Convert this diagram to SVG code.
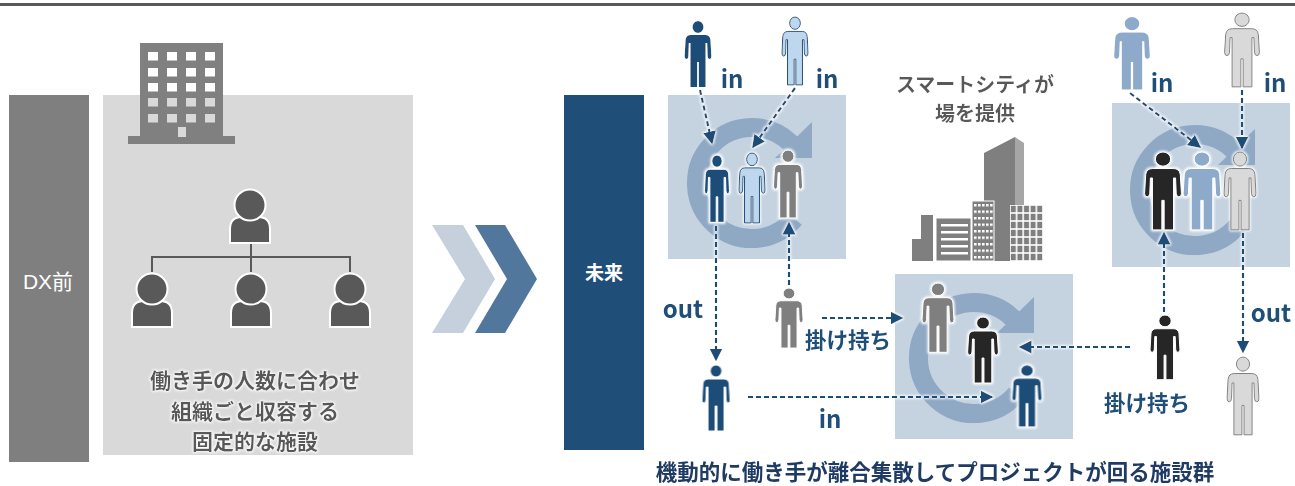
<svg xmlns="http://www.w3.org/2000/svg" xmlns:xlink="http://www.w3.org/1999/xlink" width="1295" height="486" viewBox="0 0 1295 486">
  <style>
    .jp { font-family: "Noto Sans CJK JP", "Liberation Sans", sans-serif; font-weight: bold; text-anchor: middle; }
    .navy { fill: #1f4e79; }
    .grayt { fill: #595959; }
    .box { fill: #c5d3e0; }
    .dash { fill: none; stroke: #1f4e79; stroke-width: 2.2; stroke-dasharray: 5 3; marker-end: url(#head); }
    .p-navy { fill: #1f4e79; stroke: #ffffff; stroke-width: 1; }
    .p-light { fill: #bdd7ee; stroke: #1f4e79; stroke-width: 1; }
    .p-gray { fill: #7f7f7f; stroke: #ffffff; stroke-width: 1; }
    .p-black { fill: #262626; stroke: #ffffff; stroke-width: 1; }
    .p-mid { fill: #8eaacb; stroke: #ffffff; stroke-width: 1; }
    .p-pale { fill: #d9d9d9; stroke: #7f7f7f; stroke-width: 1; }
    .org { fill: #595959; stroke: #ffffff; stroke-width: 2; }
    .orgline { fill: none; stroke: #595959; stroke-width: 2; }
  </style>
  <defs>
    <!-- soft white outline used behind figures, arrows and grey captions -->
    <filter id="halo" filterUnits="userSpaceOnUse" x="0" y="0" width="1295" height="486">
      <feMorphology in="SourceAlpha" operator="dilate" radius="1" result="d"/>
      <feGaussianBlur in="d" stdDeviation="1.1" result="b"/>
      <feFlood flood-color="#ffffff" flood-opacity="0.9"/>
      <feComposite in2="b" operator="in" result="g"/>
      <feMerge><feMergeNode in="g"/><feMergeNode in="SourceGraphic"/></feMerge>
    </filter>
    <marker id="head" markerUnits="userSpaceOnUse" markerWidth="14" markerHeight="14" refX="11.5" refY="6.5" orient="auto">
      <path d="M0,0 L13,6.5 L0,13 Z" fill="#1f4e79"/>
    </marker>
    <!-- standing person pictogram, head top at origin, 29 wide x 66 tall -->
    <path id="man" vector-effect="non-scaling-stroke" d="M-6,6 a6,6 0 1,0 12,0 a6,6 0 1,0 -12,0 Z M-8,14 H8 Q13,14 13.6,19 L14.5,35 Q14.6,38 12.5,38 Q10.6,38 10.4,35 L9.9,22 H8.3 V66 H0.9 V41 H-0.9 V66 H-8.3 V22 H-9.9 L-10.4,35 Q-10.6,38 -12.5,38 Q-14.6,38 -14.5,35 L-13.6,19 Q-13,14 -8,14 Z"/>
    <!-- clockwise loop arrow centred on origin -->
    <g id="loop" fill="#8fa9c5">
      <path d="M42.5,35.7 A55.5,55.5 0 1,1 39.2,-39.2" fill="none" stroke="#8fa9c5" stroke-width="19"/>
      <path d="M23,-25 L60,-61 L60,-25 Z"/>
    </g>
    <!-- org chart member -->
    <g id="member">
      <path class="org" d="M-20,38 V24 Q-20,12 -8,12 H8 Q20,12 20,24 V38 Z"/>
      <circle class="org" cx="0" cy="0" r="15.5"/>
    </g>
    <pattern id="dots" patternUnits="userSpaceOnUse" x="974" y="204" width="4" height="6.5">
      <rect x="0" y="0" width="2.6" height="2.4" fill="#ffffff"/>
    </pattern>
    <pattern id="grid" patternUnits="userSpaceOnUse" x="1010" y="205" width="6.6" height="8">
      <rect width="6.6" height="8" fill="#ffffff"/>
      <rect x="0.8" y="0.8" width="5" height="6.4" fill="#7f7f7f"/>
    </pattern>
  </defs>

  <rect x="0" y="0" width="1295" height="486" fill="#ffffff"/>
  <rect x="0" y="3" width="1295" height="3" fill="#595959"/>

  <!-- before DX -->
  <g id="before-label">
    <rect x="9" y="95" width="80" height="367" fill="#7f7f7f"/>
    <text x="48" y="289" font-family="Liberation Sans, Noto Sans CJK JP, sans-serif" font-size="21" fill="#ffffff" text-anchor="middle">DX前</text>
  </g>
  <g id="before-panel">
    <rect x="103" y="95" width="310" height="360" fill="#d9d9d9"/>
  </g>
  <g id="office-building">
    <rect x="140" y="43" width="83" height="93" fill="#808080"/>
    <rect x="128" y="136" width="107" height="8" fill="#808080"/>
    <g fill="#ffffff">
      <rect x="148" y="52" width="10" height="8.5"/><rect x="167" y="52" width="10" height="8.5"/><rect x="186" y="52" width="10" height="8.5"/><rect x="205" y="52" width="10" height="8.5"/>
      <rect x="148" y="68" width="10" height="8.5"/><rect x="167" y="68" width="10" height="8.5"/><rect x="186" y="68" width="10" height="8.5"/><rect x="205" y="68" width="10" height="8.5"/>
      <rect x="148" y="83" width="10" height="8.5"/><rect x="167" y="83" width="10" height="8.5"/><rect x="186" y="83" width="10" height="8.5"/><rect x="205" y="83" width="10" height="8.5"/>
    </g>
    <g fill="#d9d9d9">
      <rect x="148" y="98" width="10" height="8.5"/><rect x="167" y="98" width="10" height="8.5"/><rect x="186" y="98" width="10" height="8.5"/><rect x="205" y="98" width="10" height="8.5"/>
      <rect x="148" y="114" width="10" height="8.5"/><rect x="167" y="114" width="10" height="8.5"/><rect x="186" y="114" width="10" height="8.5"/><rect x="205" y="114" width="10" height="8.5"/>
      <rect x="178" y="127" width="8" height="10"/>
    </g>
  </g>
  <g id="org-chart">
    <path class="orgline" d="M251,243 V257 M152,272 V257 H350 V272 M251,257 V272"/>
    <use href="#member" xlink:href="#member" transform="translate(250,205)"/>
    <use href="#member" xlink:href="#member" transform="translate(152,289)"/>
    <use href="#member" xlink:href="#member" transform="translate(251,289)"/>
    <use href="#member" xlink:href="#member" transform="translate(350,289)"/>
  </g>
  <g id="before-caption" filter="url(#halo)">
    <text class="jp grayt" font-size="21"><tspan x="255" y="388">働き手の人数に合わせ</tspan><tspan x="255" y="418.5">組織ごと収容する</tspan><tspan x="255" y="449">固定的な施設</tspan></text>
  </g>

  <!-- transition chevrons -->
  <g id="chevrons">
    <polygon points="432,225 463,225 495,279 463,333 432,333 465,279" fill="#c5d0dc"/>
    <polygon points="475,225 505,225 537,279 505,333 475,333 507,279" fill="#52779c"/>
  </g>

  <!-- future -->
  <g id="future-label">
    <rect x="564" y="95" width="80" height="355" fill="#1f4e79"/>
    <text class="jp" x="604" y="280" font-size="19" fill="#ffffff">未来</text>
  </g>

  <g id="smart-city">
    <g filter="url(#halo)">
      <text class="jp grayt" font-size="20"><tspan x="975" y="92">スマートシティが</tspan><tspan x="975" y="121">場を提供</tspan></text>
    </g>
    <polygon points="984,153 1015,137 1015,261 984,261" fill="#7f7f7f"/>
    <polygon points="1015,137 1024,143 1024,261 1015,261" fill="#a6a6a6"/>
    <rect x="921" y="215" width="12" height="46" fill="#7f7f7f"/>
    <rect x="912" y="239" width="9" height="22" fill="#7f7f7f"/>
    <rect x="936" y="218" width="35" height="43" fill="#7f7f7f" stroke="#ffffff" stroke-width="1"/>
    <g fill="#ffffff">
      <rect x="941" y="224" width="27" height="2.5"/>
      <rect x="941" y="231" width="27" height="2.5"/>
      <rect x="941" y="238" width="27" height="2.5"/>
      <rect x="941" y="245" width="27" height="2.5"/>
      <rect x="941" y="252" width="27" height="2.5"/>
    </g>
    <rect x="972" y="201" width="22" height="60" fill="#7f7f7f" stroke="#ffffff" stroke-width="1"/>
    <rect x="974" y="204" width="19" height="55" fill="url(#dots)"/>
    <rect x="1010" y="205" width="33" height="56" fill="url(#grid)"/>
  </g>

  <!-- project spaces -->
  <g id="space-a">
    <rect class="box" x="668" y="95" width="178" height="164"/>
    <use href="#loop" xlink:href="#loop" transform="translate(752,183)"/>
  </g>
  <g id="space-b">
    <rect class="box" x="895" y="274" width="178" height="165"/>
    <use href="#loop" xlink:href="#loop" transform="translate(974,358)"/>
  </g>
  <g id="space-c">
    <rect class="box" x="1112" y="103" width="178" height="164"/>
    <use href="#loop" xlink:href="#loop" transform="translate(1195,190)"/>
  </g>

  <!-- workers -->
  <g id="workers" filter="url(#halo)">
    <use id="worker-a" class="p-navy" href="#man" xlink:href="#man" transform="translate(698,21) scale(0.92,1)" style="stroke:none"/>
    <use id="worker-b" class="p-light" href="#man" xlink:href="#man" transform="translate(795,17) scale(0.9,1.03)"/>
    <use id="worker-c" class="p-navy" href="#man" xlink:href="#man" transform="translate(717,155) scale(0.86,1.02)"/>
    <use id="worker-d" class="p-light" href="#man" xlink:href="#man" transform="translate(752,153) scale(0.9,1.06)"/>
    <use id="worker-e" class="p-gray" href="#man" xlink:href="#man" transform="translate(788,150) scale(1,1.03)"/>
    <use id="worker-f" class="p-gray" href="#man" xlink:href="#man" transform="translate(789,288) scale(0.97,0.91)"/>
    <use id="worker-g" class="p-navy" href="#man" xlink:href="#man" transform="translate(716,365) scale(0.97,1)"/>
    <use id="worker-h" class="p-gray" href="#man" xlink:href="#man" transform="translate(938,283) scale(1.1,1.05)"/>
    <use id="worker-i" class="p-black" href="#man" xlink:href="#man" transform="translate(983,317) scale(1.06,1)"/>
    <use id="worker-j" class="p-navy" href="#man" xlink:href="#man" transform="translate(1027,365) scale(1.03,0.94)"/>
    <use id="worker-k" class="p-mid" href="#man" xlink:href="#man" transform="translate(1132,17) scale(1.23,1.1)" style="stroke:none"/>
    <use id="worker-l" class="p-pale" href="#man" xlink:href="#man" transform="translate(1242,13) scale(1.2,1.12)"/>
    <use id="worker-m" class="p-black" href="#man" xlink:href="#man" transform="translate(1163,152) scale(1.27,1.18)"/>
    <use id="worker-n" class="p-mid" href="#man" xlink:href="#man" transform="translate(1202,152) scale(1.3,1.18)"/>
    <use id="worker-o" class="p-pale" href="#man" xlink:href="#man" transform="translate(1240,152) scale(1.1,1.18)"/>
    <use id="worker-p" class="p-black" href="#man" xlink:href="#man" transform="translate(1165,315) scale(1.03,0.98)"/>
    <use id="worker-q" class="p-pale" href="#man" xlink:href="#man" transform="translate(1243,357) scale(1.1,1.18)"/>
  </g>

  <!-- movement connectors -->
  <g id="connectors" filter="url(#halo)">
    <path class="dash" d="M700,90 L712,143"/>
    <path class="dash" d="M795,88 L753,147"/>
    <path class="dash" d="M716,226 L716,360"/>
    <path class="dash" d="M789,285 L789,223"/>
    <path class="dash" d="M822,318 L902,318"/>
    <path class="dash" d="M748,397 L992,397"/>
    <path class="dash" d="M1130,347 L1020,347"/>
    <path class="dash" d="M1164,312 L1164,233"/>
    <path class="dash" d="M1243,233 L1243,352"/>
    <path class="dash" d="M1130,93 L1200,147"/>
    <path class="dash" d="M1242,90 L1242,148"/>
  </g>

  <!-- connector labels -->
  <g id="labels" class="jp navy">
    <text x="732" y="88" font-size="24">in</text>
    <text x="827" y="88" font-size="24">in</text>
    <text x="1162" y="92" font-size="24">in</text>
    <text x="1275" y="92" font-size="24">in</text>
    <text x="683" y="318" font-size="24">out</text>
    <text x="1271" y="322" font-size="24">out</text>
    <text x="830" y="428" font-size="24">in</text>
    <text x="848" y="348" font-size="21.5">掛け持ち</text>
    <text x="1147" y="411" font-size="21.5">掛け持ち</text>
  </g>

  <g id="future-caption">
    <text class="jp" x="935" y="480" font-size="21.5" fill="#1f3b63">機動的に働き手が離合集散してプロジェクトが回る施設群</text>
  </g>
</svg>
